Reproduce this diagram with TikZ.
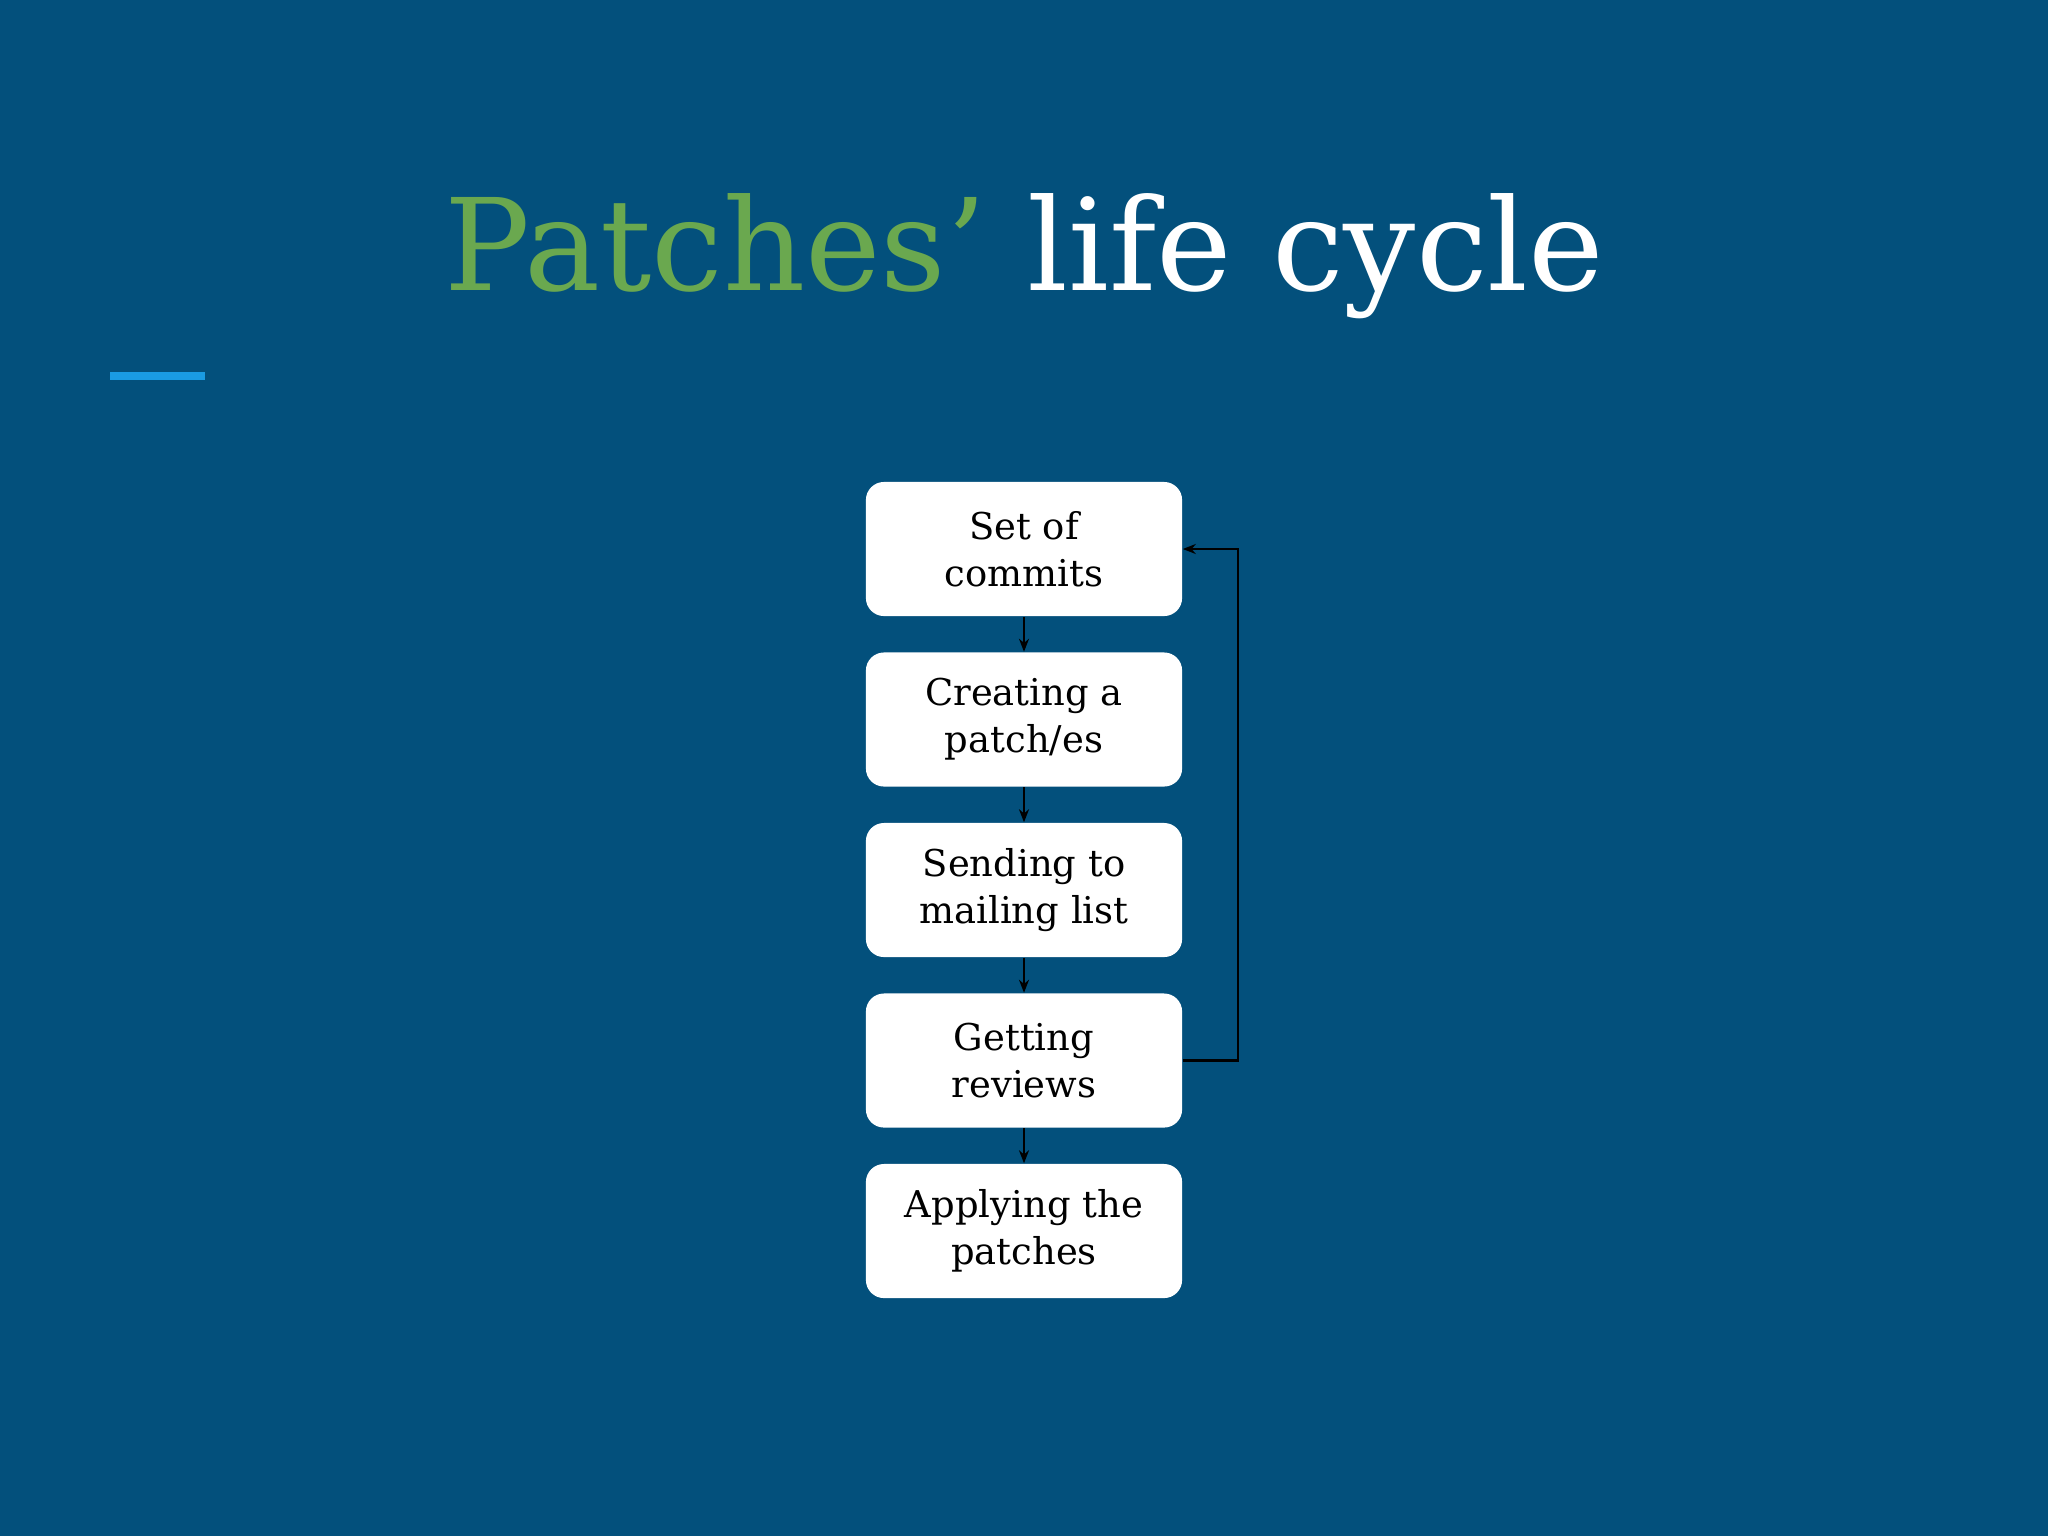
\documentclass[tikz,border=0pt]{standalone}
\usepackage{fontspec}
\setmainfont{DejaVu Serif}
\usepackage{tikz}
\usetikzlibrary{arrows.meta, positioning}

\definecolor{slidebg}{HTML}{03507C}
\definecolor{titlegreen}{HTML}{6AA84F}
\definecolor{accentblue}{HTML}{1A9BE3}

\begin{document}
\begin{tikzpicture}[x=0.01cm, y=-0.01cm,
      stage/.style={rectangle, rounded corners=0.18cm, fill=white,
         minimum width=3.16cm, minimum height=1.34cm, align=center,
         inner sep=0pt, font=\fontsize{10.5}{13.3}\selectfont, text=black},
      flow/.style={-{Stealth[length=0.13cm, width=0.1cm]},
         line width=0.6pt, black}]
   \useasboundingbox (0,0) rectangle (2048,1536);
   \fill [slidebg] (0,0) rectangle (2048,1536);

   \node (title) at (1024,290) [anchor=base,
      font=\fontsize{36.3}{42}\selectfont]
      {\textcolor{titlegreen}{Patches’} \textcolor{white}{life cycle}};
   \fill [accentblue] (110,372) rectangle (205,380);

   \node (set) at (1024,549) [stage] {Set of\\commits};
   \node (create) [stage, below=0.35cm of set] {Creating a\\patch/es};
   \node (send) [stage, below=0.35cm of create] {Sending to\\mailing list};
   \node (review) [stage, below=0.35cm of send] {Getting\\reviews};
   \node (apply) [stage, below=0.35cm of review] {Applying the\\patches};

   \draw [flow] (set) -- (create);
   \draw [flow] (create) -- (send);
   \draw [flow] (send) -- (review);
   \draw [flow] (review) -- (apply);
   \draw [flow] (review.east) -- ++(0.55cm,0) |- (set.east);
\end{tikzpicture}
\end{document}
